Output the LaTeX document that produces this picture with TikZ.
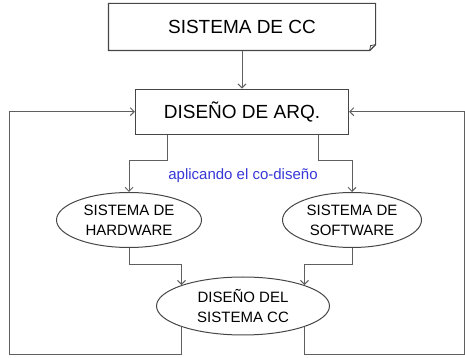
\documentclass[tikz,border=0pt]{standalone}
\usepackage{fontspec}
\setmainfont{Liberation Sans}
\usetikzlibrary{shapes.geometric, arrows.meta, positioning, calc}
\definecolor{linea}{RGB}{95,95,95}
\definecolor{borde}{RGB}{70,70,70}
\definecolor{azul}{RGB}{55,55,215}

\begin{document}
\begin{tikzpicture}[
                x=1pt, y=1pt,
                caja/.style={draw=borde, line width=1.2pt, minimum width=213pt, minimum height=45pt, align=center, font=\fontsize{19}{22}\selectfont, inner sep=0pt},
                elipse/.style={ellipse, draw=borde, line width=1pt, inner sep=0pt, align=center, font=\fontsize{15}{20}\selectfont},
                flecha/.style={-{Straight Barb[length=4pt, width=8pt]}, linea, line width=1pt},
            ]
                \useasboundingbox (0,0) rectangle (465,358);
                \node[caja, draw=none, minimum width=266pt, minimum height=46pt] (cc) at (242,331) {SISTEMA DE CC};
                \node[caja, below=38pt of cc] (arq) {DISEÑO DE ARQ.};
                \node[elipse, minimum width=145pt, minimum height=55pt] (hw) at (129,138) {SISTEMA DE\\HARDWARE};
                \node[elipse, minimum width=139pt, minimum height=55pt] (sw) at (352,138) {SISTEMA DE\\SOFTWARE};
                \node[elipse, minimum width=173pt, minimum height=58pt] (dis) at (243,52) {DISEÑO DEL\\SISTEMA CC};
                \node[text=azul, font=\fontsize{15}{18}\selectfont] (codis) at (243,182) {aplicando el co-diseño};
                \coordinate (lazoizq) at (9,3);
                \coordinate (lazoder) at (464,3);

                % hoja con la esquina doblada
                \draw[borde, line width=1.2pt] (cc.north west) -- (cc.north east) -- ($(cc.south east)+(0,6)$) -- ($(cc.south east)+(-6,0)$) -- (cc.south west) -- cycle;
                \draw[borde, line width=0.8pt] ($(cc.south east)+(0,6)$) -- ($(cc.south east)+(-5,5)$) -- ($(cc.south east)+(-6,0)$);

                \draw[flecha] (cc) -- (arq);
                \draw[flecha] ([xshift=-75pt]arq.south) -- ++(0,-26) -| (hw.north);
                \draw[flecha] ([xshift=76pt]arq.south) -- ++(0,-26) -| (sw.north);
                \draw[flecha] (hw.south) -- ++(0,-17) -| (dis.north west);
                \draw[flecha] (sw.south) -- ++(0,-17) -| (dis.north east);
                \draw[flecha] (dis.south west) |- (lazoizq) |- (arq.west);
                \draw[flecha] (dis.south east) |- (lazoder) |- (arq.east);
            \end{tikzpicture}
\end{document}
